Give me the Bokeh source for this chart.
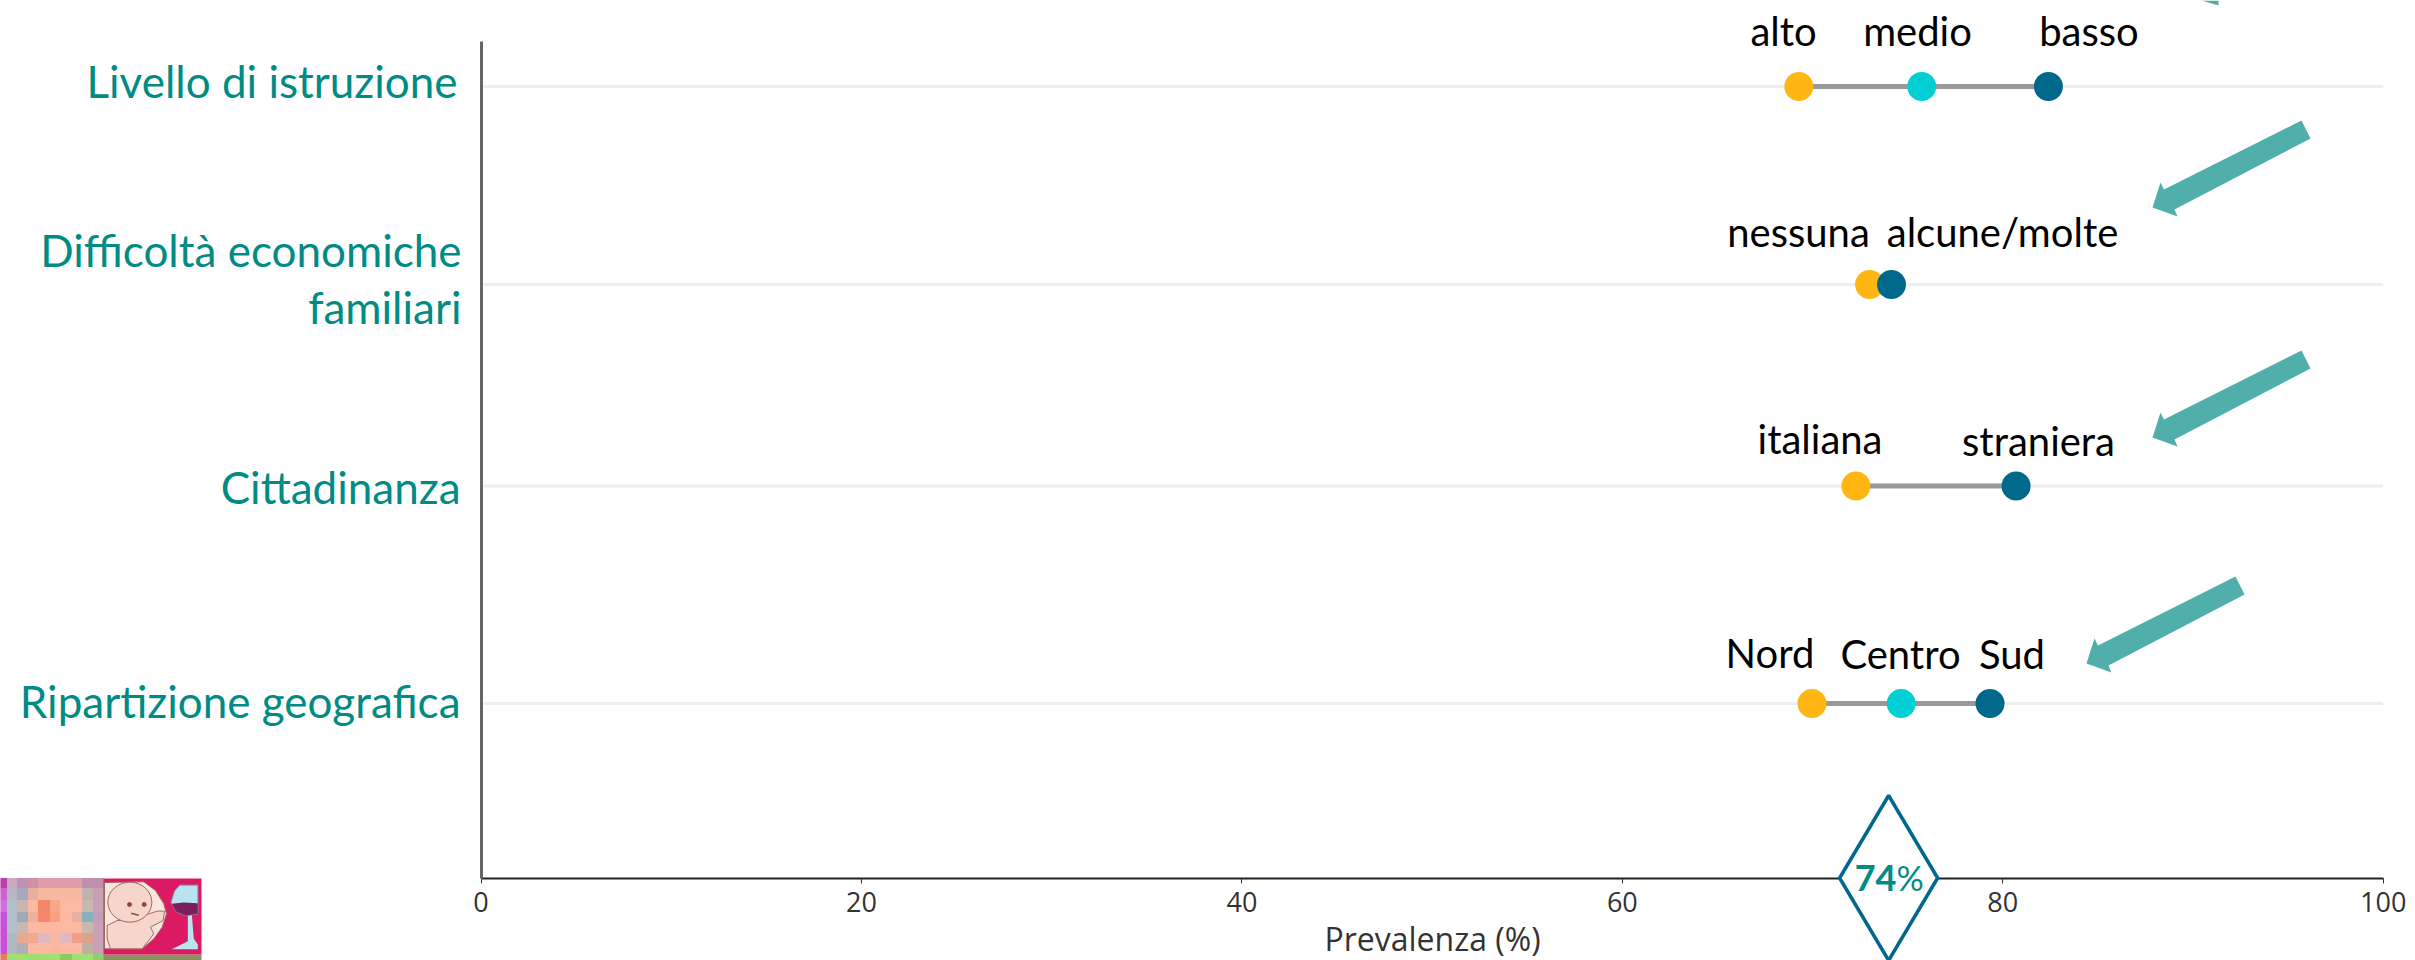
from bokeh.plotting import figure
from bokeh.models import Range1d, FixedTicker
from bokeh.core.properties import value
from bokeh.embed import file_html
from bokeh.resources import INLINE

# ---------- data ----------
categories = ["Livello di istruzione", "Difficoltà economiche\nfamiliari", "Cittadinanza", "Ripartizione geografica"]
istruzione_labels = ["alto", "medio", "basso"]
istruzione_values = [69.28, 75.74, 82.4]
difficolta_labels = ["nessuna", "alcune/molte"]
difficolta_values = [73.0, 74.15]
cittadinanza_labels = ["italiana", "straniera"]
cittadinanza_values = [72.28, 80.7]
ripartizione_labels = ["Nord", "Centro", "Sud"]
ripartizione_values = [69.97, 74.66, 79.33]
overall_value = 74
x_ticks = [0, 20, 40, 60, 80, 100]

# ---------- layout (page pixels) ----------
X0, X100 = 480.5, 2382.7
W, H = 2415, 960
PX = (X100 - X0) / 100.0
def X(px):
    return (px - X0) / PX
def DX(px):
    return px / PX

AXIS_Y, AXIS_TOP = 878, 41
row_y = [86, 284, 485.5, 703]
LAB_FS, CAT_FS = "40px", "44px"
LAB_SHIFT, CAT_SHIFT, BADGE_SHIFT = 13, 15, 12   # renderer's baseline offset

TEAL, ARROW = "#008b84", "#50aeab"
YEL, CYAN, BLUE = "#ffb612", "#00d0d4", "#00688b"

p = figure(width=W, height=H, output_backend="svg", toolbar_location=None,
           x_range=Range1d(X(0), X(W)), y_range=Range1d(H, 0),
           min_border=0, min_border_left=0, min_border_right=0, min_border_top=0, min_border_bottom=0,
           outline_line_color=None, background_fill_color="white", border_fill_color="white")
p.grid.visible = False

xa = p.xaxis[0]
xa.fixed_location = AXIS_Y
xa.bounds = (0, 100)
xa.ticker = FixedTicker(ticks=x_ticks)
xa.axis_line_color = "#222222"
xa.axis_line_width = 2
xa.major_tick_in = 0
xa.major_tick_out = 5
xa.major_tick_line_color = "#333333"
xa.minor_tick_line_color = None
xa.major_label_text_font = "Open Sans"
xa.major_label_text_font_size = "27px"
xa.major_label_text_color = "#333333"
xa.major_label_standoff = 8
xa.axis_label = "Prevalenza (%)"
xa.axis_label_text_font = "Open Sans"
xa.axis_label_text_font_style = "normal"
xa.axis_label_text_font_size = "32px"
xa.axis_label_text_color = "#333333"
xa.axis_label_standoff = 2

ya = p.yaxis[0]
ya.fixed_location = 0
ya.bounds = (AXIS_TOP, AXIS_Y)
ya.ticker = FixedTicker(ticks=[])
ya.axis_line_color = "#666666"
ya.axis_line_width = 3
ya.major_label_text_font_size = "0px"
ya.minor_tick_line_color = None
ya.major_tick_line_color = None

# grid rows
for y in row_y:
    p.line([X(483), 100], [y, y], line_color="#eeeeee", line_width=3)

# rows of points
rows = [
    (row_y[0], istruzione_values, [YEL, CYAN, BLUE]),
    (row_y[1], difficolta_values, [YEL, BLUE]),
    (row_y[2], cittadinanza_values, [YEL, BLUE]),
    (row_y[3], ripartizione_values, [YEL, CYAN, BLUE]),
]
for y, vals, cols in rows:
    p.line([vals[0], vals[-1]], [y, y], line_color="#999999", line_width=5)
    p.scatter(vals, [y] * len(vals), size=29, color=cols, line_color=None)

# point labels: (text list, centre px, baseline px)
point_labels = [
    (istruzione_labels, [1783, 1917, 2088.5], [43, 43, 43]),
    (difficolta_labels, [1798, 2002], [244, 244]),
    (cittadinanza_labels, [1819.5, 2038], [451, 453]),
    (ripartizione_labels, [1769.5, 1900, 2011.5], [665, 666, 666]),
]
for texts, xs, ys in point_labels:
    p.text([X(a) for a in xs], [y - LAB_SHIFT for y in ys], text=texts, text_font=value("Lato"),
           text_font_size=LAB_FS, text_align="center", text_baseline="alphabetic", text_color="#000000")

# category labels
cat_lines = [
    ("Livello di istruzione", 457, 95),
    ("Difficoltà economiche", 461, 264),
    ("familiari", 461, 321),
    ("Cittadinanza", 460, 501),
    ("Ripartizione geografica", 460, 715),
]
p.text([X(c[1]) for c in cat_lines], [c[2] - CAT_SHIFT for c in cat_lines], text=[c[0] for c in cat_lines],
       text_font=value("Lato"), text_font_size=CAT_FS, text_align="right", text_baseline="alphabetic",
       text_color=TEAL)

# arrows (annotation shapes, page px)
arrow = [(0, 0), (8, -25), (11.5, -18), (149, -87), (158, -69), (22, 2), (25, 9)]
arrow_tips = [(2152, 207), (2152, 437), (2086, 663)]
for tx, ty in arrow_tips:
    p.patch([X(tx + a) for a, b in arrow], [ty + b for a, b in arrow], fill_color=ARROW, line_color=None)
p.patch([X(2201), X(2218), X(2218)], [0, 0, 5], fill_color=ARROW, line_color=None)

# overall diamond
dw, dh = 49, 82.5
dcy = 877.5
d = p.patch([overall_value - DX(dw), overall_value, overall_value + DX(dw), overall_value],
            [dcy, dcy - dh, dcy, dcy + dh], fill_color="white", line_color=BLUE, line_width=3.5)
d.level = "overlay"
t1 = p.text([X(1896)], [889 - BADGE_SHIFT], text=[f"{overall_value}"], text_font=value("Lato"), text_font_style="bold",
            text_font_size="36px", text_align="right", text_baseline="alphabetic", text_color=TEAL)
t2 = p.text([X(1896)], [889 - BADGE_SHIFT], text=["%"], text_font=value("Lato"), text_font_size="34px",
            text_align="left", text_baseline="alphabetic", text_color=TEAL)
t1.level = t2.level = "overlay"

# small picture at lower left: mosaic
col_edges = [0, 7, 17, 28, 38, 50, 60, 72, 82, 93, 103]
row_edges = [878, 888, 900, 912, 922, 933, 943, 954, 960]
mosaic = [
    ["#b840a8", "#c9a8c0", "#c090b8", "#d090a8", "#e09ca8", "#e09ca8", "#e09ca8", "#e09ca8", "#c090b0", "#c090b0"],
    ["#d060d0", "#b8b8c4", "#a8a8bc", "#e8b0a0", "#f8b8a0", "#f8b8a0", "#f8b8a0", "#f8b8a0", "#c0b0b0", "#c8a0b0"],
    ["#d070e0", "#b0c0c8", "#c8b4b0", "#fcb8a0", "#f08868", "#f8a888", "#fcb8a0", "#fcb8a0", "#c8b8b0", "#c8a0b8"],
    ["#c850d8", "#b0c0c8", "#a0a8b4", "#f0b0a0", "#f88868", "#f8a080", "#fcb8a0", "#e8b0a0", "#88b0bc", "#c0a0b8"],
    ["#c850d8", "#b0c0c8", "#c8b8b0", "#fcb8a0", "#fcb8a0", "#fcb8a0", "#fcb8a0", "#fcb8a0", "#c8b8b0", "#c8a0b8"],
    ["#c850d8", "#b0b8c0", "#e8a890", "#f0a890", "#e0b8c0", "#f8b8a0", "#e0b8c0", "#f0a088", "#e0a090", "#c8a0b8"],
    ["#c850d8", "#b0b8c0", "#b0b0b4", "#fcb8a0", "#fcb8a0", "#f8b8a0", "#fcb8a0", "#fcb8a0", "#c0b0a0", "#c8a0b8"],
    ["#e08060", "#a0e070", "#a0e070", "#98e070", "#a0e070", "#a0e070", "#8cc864", "#a0e070", "#a0e070", "#90d068"],
]
l, r, t, b, c = [], [], [], [], []
for i, row in enumerate(mosaic):
    for j, col in enumerate(row):
        l.append(X(col_edges[j])); r.append(X(col_edges[j + 1]))
        t.append(row_edges[i]); b.append(row_edges[i + 1]); c.append(col)
p.quad(left=l, right=r, top=t, bottom=b, fill_color=c, line_color=c, line_width=1)

# small picture: baby and glass
Z = lambda pts: ([X(100 + a / 3) for a, _ in pts], [870 + q / 3 for _, q in pts])
p.quad(left=[X(103)], right=[X(201)], top=[954], bottom=[960], fill_color="#8a9060", line_color=None)
p.quad(left=[X(103)], right=[X(201)], top=[878], bottom=[954], fill_color="#dc1a63", line_color=None)
bg = [(12, 36), (130, 34), (165, 60), (190, 100), (198, 130), (185, 170), (160, 205), (125, 235), (12, 235)]
xs, ys = Z(bg); p.patch(xs, ys, fill_color="#f8e6de", line_color="#a06a5a", line_width=1)
body = [(20, 165), (50, 150), (90, 148), (170, 122), (192, 122), (188, 150), (150, 170), (160, 190), (125, 235), (30, 235), (20, 205)]
xs, ys = Z(body); p.patch(xs, ys, fill_color="#f6d6ca", line_color="#a06a5a", line_width=1)
p.ellipse([X(100 + 88 / 3)], [870 + 95 / 3], width=DX(44), height=40, fill_color="#f6d6ca", line_color="#a06a5a", line_width=1)
p.scatter([X(100 + 87 / 3), X(100 + 131 / 3)], [870 + 102 / 3] * 2, size=4, color="#8a4a42")
p.line([X(100 + 92 / 3), X(100 + 115 / 3)], [870 + 128 / 3, 870 + 134 / 3], line_color="#8a4a42", line_width=1.5)
stem = [(262, 133), (274, 133), (280, 205), (292, 222), (292, 236), (214, 236), (262, 212)]
xs, ys = Z(stem); p.patch(xs, ys, fill_color="#b8e4f0", line_color=None)
bowl = [(238, 44), (292, 44), (292, 130), (255, 136), (225, 122), (212, 95), (222, 62)]
xs, ys = Z(bowl); p.patch(xs, ys, fill_color="#b8e4f0", line_color="#7aa8b8", line_width=1)
wine = [(214, 100), (250, 96), (292, 98), (292, 130), (255, 136), (225, 122)]
xs, ys = Z(wine); p.patch(xs, ys, fill_color="#7a1f5c", line_color=None)

open("out.html", "w").write(file_html(p, INLINE))
